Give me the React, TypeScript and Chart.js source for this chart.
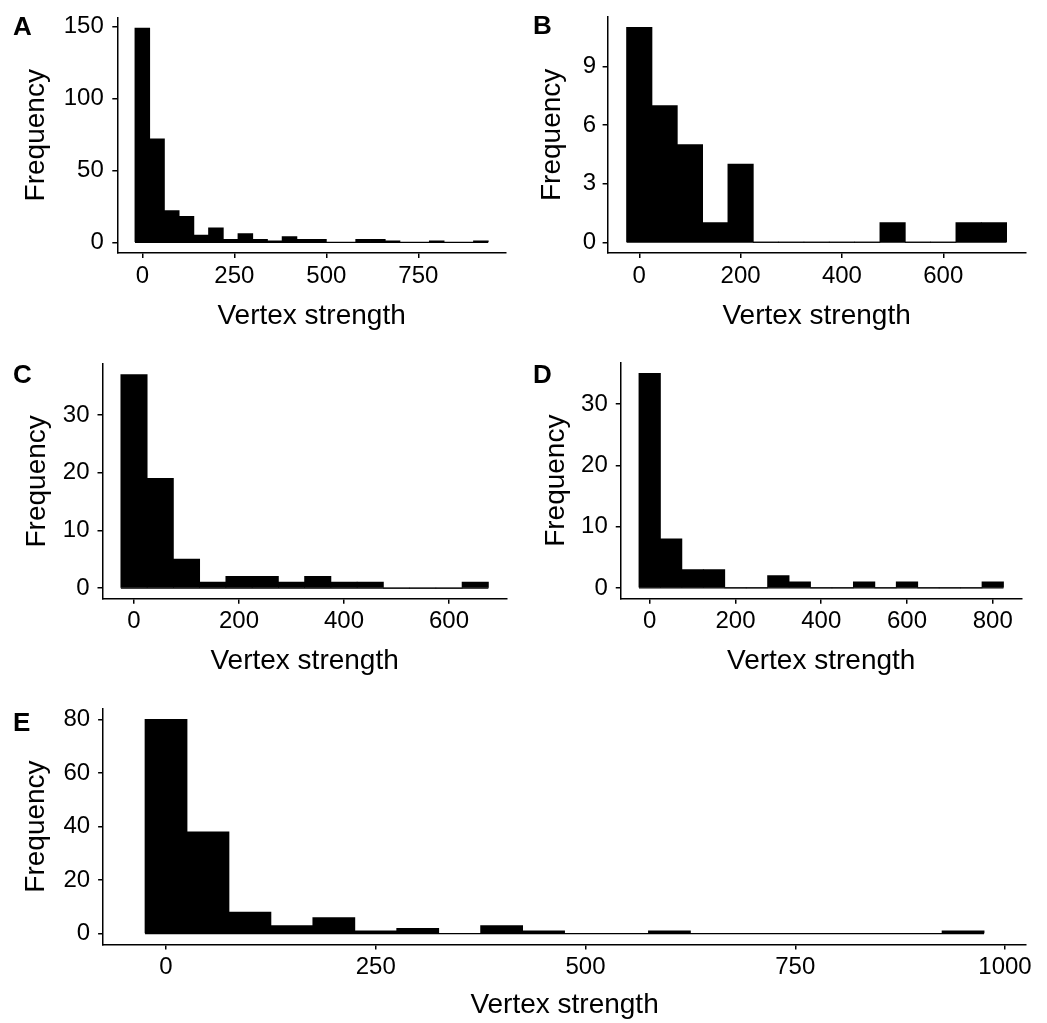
import React, { useEffect, useRef } from "react";
import { Chart, registerables } from "chart.js";

Chart.register(...registerables);

// ---------------- DATA ----------------
// Panel A (bin width 40)
const binCentersA = [0, 40, 80, 120, 160, 200, 240, 280, 320, 360, 400, 440, 480, 520, 560, 600, 640, 680, 720, 760, 800, 840, 880, 920];
const countsA = [149, 72, 22, 18, 5, 10, 2, 6, 2, 1, 4, 2, 2, 0, 0, 2, 2, 1, 0, 0, 1, 0, 0, 1];
const xTicksA = [0, 250, 500, 750];
const yTicksA = [0, 50, 100, 150];

// Panel B (bin width 50)
const binCentersB = [0, 50, 100, 150, 200, 250, 300, 350, 400, 450, 500, 550, 600, 650, 700];
const countsB = [11, 7, 5, 1, 4, 0, 0, 0, 0, 0, 1, 0, 0, 1, 1];
const xTicksB = [0, 200, 400, 600];
const yTicksB = [0, 3, 6, 9];

// Panel C (bin width 50)
const binCentersC = [0, 50, 100, 150, 200, 250, 300, 350, 400, 450, 500, 550, 600, 650];
const countsC = [37, 19, 5, 1, 2, 2, 1, 2, 1, 1, 0, 0, 0, 1];
const xTicksC = [0, 200, 400, 600];
const yTicksC = [0, 10, 20, 30];

// Panel D (bin width 50)
const binCentersD = [0, 50, 100, 150, 200, 250, 300, 350, 400, 450, 500, 550, 600, 650, 700, 750, 800];
const countsD = [35, 8, 3, 3, 0, 0, 2, 1, 0, 0, 1, 0, 1, 0, 0, 0, 1];
const xTicksD = [0, 200, 400, 600, 800];
const yTicksD = [0, 10, 20, 30];

// Panel E (bin width 50)
const binCentersE = [0, 50, 100, 150, 200, 250, 300, 350, 400, 450, 500, 550, 600, 650, 700, 750, 800, 850, 900, 950];
const countsE = [80, 38, 8, 3, 6, 1, 2, 0, 3, 1, 0, 0, 1, 0, 0, 0, 0, 0, 0, 1];
const xTicksE = [0, 250, 500, 750, 1000];
const yTicksE = [0, 20, 40, 60, 80];

const xTitle = "Vertex strength";
const yTitle = "Frequency";

// ---------------- LAYOUT / STYLE ----------------
const FONT = "'Liberation Sans', Arial, Helvetica, sans-serif";
const TICK_SIZE = 24;
const TITLE_SIZE = 28;
const LETTER_SIZE = 26;

type Box = { left: number; top: number; width: number; height: number };
type Area = { left: number; right: number; top: number; bottom: number };

type PanelSpec = {
  letter: string;
  centers: number[];
  counts: number[];
  binWidth: number;
  xTicks: number[];
  yTicks: number[];
  box: Box;
  area: Area;
  yTitleX: number;
  xTitleY: number;
  yLabelGap: number;
  letterLeft: number;
  letterTop: number;
};

const panels: PanelSpec[] = [
  {
    letter: "A", centers: binCentersA, counts: countsA, binWidth: 40, xTicks: xTicksA, yTicks: yTicksA,
    box: { left: 0, top: 0, width: 523, height: 345 },
    area: { left: 117.3, right: 505.9, top: 17.5, bottom: 253 },
    yTitleX: 36.5, xTitleY: 316, yLabelGap: 13.5, letterLeft: 13, letterTop: 13,
  },
  {
    letter: "B", centers: binCentersB, counts: countsB, binWidth: 50, xTicks: xTicksB, yTicks: yTicksB,
    box: { left: 523, top: 0, width: 524, height: 345 },
    area: { left: 607.6, right: 1025.6, top: 16.7, bottom: 253 },
    yTitleX: 552.5, xTitleY: 316, yLabelGap: 11.5, letterLeft: 533, letterTop: 12,
  },
  {
    letter: "C", centers: binCentersC, counts: countsC, binWidth: 50, xTicks: xTicksC, yTicks: yTicksC,
    box: { left: 0, top: 345, width: 523, height: 345 },
    area: { left: 102.5, right: 506.75, top: 364, bottom: 598.7 },
    yTitleX: 37, xTitleY: 661, yLabelGap: 13, letterLeft: 13, letterTop: 361,
  },
  {
    letter: "D", centers: binCentersD, counts: countsD, binWidth: 50, xTicks: xTicksD, yTicks: yTicksD,
    box: { left: 523, top: 345, width: 524, height: 345 },
    area: { left: 620.75, right: 1021.7, top: 362.7, bottom: 598.7 },
    yTitleX: 556, xTitleY: 661, yLabelGap: 13, letterLeft: 533, letterTop: 361,
  },
  {
    letter: "E", centers: binCentersE, counts: countsE, binWidth: 50, xTicks: xTicksE, yTicks: yTicksE,
    box: { left: 0, top: 690, width: 1047, height: 333 },
    area: { left: 103.1, right: 1026, top: 708.7, bottom: 944.4 },
    yTitleX: 36, xTitleY: 1005, yLabelGap: 13, letterLeft: 13, letterTop: 709,
  },
];

const TICK_LEN = 5;
const X_LABEL_CENTER_OFFSET = 23;

function HistPanel({ p }: { p: PanelSpec }) {
  const ref = useRef<HTMLCanvasElement>(null);

  useEffect(() => {
    const canvas = ref.current;
    if (!canvas) return;
    const { box, area } = p;
    const firstEdge = p.centers[0] - p.binWidth / 2;
    const lastEdge = p.centers[p.centers.length - 1] + p.binWidth / 2;
    const xPad = 0.05 * (lastEdge - firstEdge);
    const yMaxData = Math.max(...p.counts);
    const yPad = 0.05 * yMaxData;

    const yAxisW = area.left - box.left;
    const xAxisH = box.top + box.height - area.bottom;
    const tickLH = TICK_SIZE * 1.2;
    const titleLH = TITLE_SIZE * 1.2;

    const xTickPad = X_LABEL_CENTER_OFFSET - TICK_LEN - tickLH / 2;
    const xTitleBottomPad = xAxisH - (p.xTitleY - area.bottom) - titleLH / 2;
    const yTitleTopPad = p.yTitleX - box.left - titleLH / 2;

    const chart = new Chart(canvas, {
      type: "bar",
      data: {
        datasets: [
          {
            type: "bar",
            data: p.centers.map((c, i) => ({ x: c, y: p.counts[i] })),
            backgroundColor: "#000000",
            borderWidth: 0,
            barPercentage: 1,
            categoryPercentage: 1,
            inflateAmount: 0.4,
            order: 0,
          } as any,
          {
            type: "line",
            data: [
              { x: firstEdge, y: 0 },
              { x: lastEdge, y: 0 },
            ],
            borderColor: "#000000",
            borderWidth: 1.2,
            pointRadius: 0,
            fill: false,
            order: 1,
          } as any,
        ],
      },
      options: {
        responsive: false,
        animation: false,
        events: [],
        layout: {
          padding: {
            left: 0,
            top: area.top - box.top,
            right: box.left + box.width - area.right,
            bottom: 0,
          },
        },
        plugins: {
          legend: { display: false },
          tooltip: { enabled: false },
          title: { display: false },
        },
        scales: {
          x: {
            type: "linear",
            min: firstEdge - xPad,
            max: lastEdge + xPad,
            offset: false,
            grid: {
              display: true,
              offset: false,
              drawOnChartArea: false,
              drawTicks: true,
              tickLength: TICK_LEN,
              color: "#000000",
              lineWidth: 1.5,
            },
            border: { display: true, color: "#000000", width: 1.5 },
            ticks: {
              font: { family: FONT, size: TICK_SIZE },
              color: "#000000",
              padding: xTickPad,
              maxRotation: 0,
              minRotation: 0,
              autoSkip: false,
              callback: (v: any) => String(v),
            },
            afterBuildTicks: (s: any) => {
              s.ticks = p.xTicks.map((v) => ({ value: v }));
            },
            afterFit: (s: any) => {
              s.height = xAxisH;
              s.paddingLeft = 0;
              s.paddingRight = 0;
            },
            title: {
              display: true,
              text: xTitle,
              font: { family: FONT, size: TITLE_SIZE },
              color: "#000000",
              padding: { top: 0, bottom: xTitleBottomPad },
            },
          },
          y: {
            type: "linear",
            min: -yPad,
            max: yMaxData + yPad,
            grid: {
              display: true,
              offset: false,
              drawOnChartArea: false,
              drawTicks: true,
              tickLength: TICK_LEN,
              color: "#000000",
              lineWidth: 1.5,
            },
            border: { display: true, color: "#000000", width: 1.5 },
            ticks: {
              font: { family: FONT, size: TICK_SIZE },
              color: "#000000",
              padding: p.yLabelGap - TICK_LEN,
              autoSkip: false,
              callback: (v: any) => String(v),
            },
            afterBuildTicks: (s: any) => {
              s.ticks = p.yTicks.map((v) => ({ value: v }));
            },
            afterFit: (s: any) => {
              s.width = yAxisW;
              s.paddingTop = 0;
              s.paddingBottom = 0;
            },
            title: {
              display: true,
              text: yTitle,
              font: { family: FONT, size: TITLE_SIZE },
              color: "#000000",
              padding: { top: yTitleTopPad, bottom: 0 },
            },
          },
        },
      } as any,
    });
    return () => chart.destroy();
  }, [p]);

  return (
    <>
      <canvas
        ref={ref}
        width={p.box.width}
        height={p.box.height}
        style={{
          position: "absolute",
          left: p.box.left,
          top: p.box.top,
          width: p.box.width,
          height: p.box.height,
        }}
      />
      <div
        style={{
          position: "absolute",
          left: p.letterLeft,
          top: p.letterTop,
          fontFamily: FONT,
          fontWeight: "bold",
          fontSize: LETTER_SIZE,
          lineHeight: 1,
          color: "#000",
        }}
      >
        {p.letter}
      </div>
    </>
  );
}

export default function App() {
  return (
    <div
      style={{
        position: "absolute",
        left: 0,
        top: 0,
        width: 1047,
        height: 1023,
        background: "#ffffff",
        overflow: "hidden",
      }}
    >
      {panels.map((p) => (
        <HistPanel key={p.letter} p={p} />
      ))}
    </div>
  );
}
